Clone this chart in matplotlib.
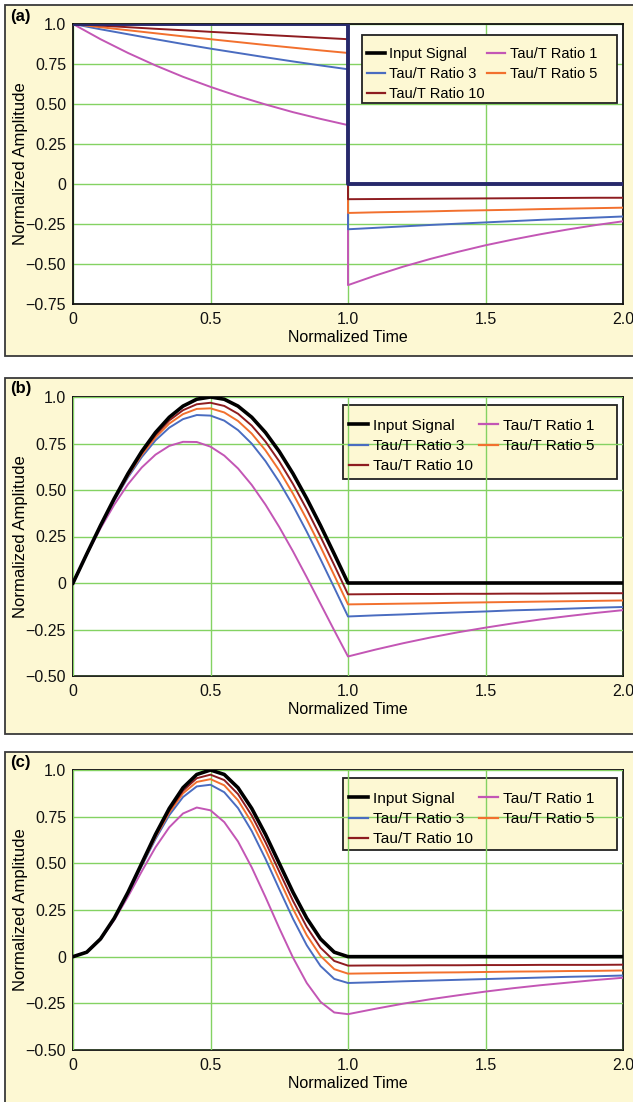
import matplotlib
matplotlib.use("Agg")
import matplotlib.pyplot as plt
from matplotlib.patches import Rectangle
from matplotlib.lines import Line2D

# ---------- data ----------
# panel (a): step input, values just before and just after t = 1
t_a = [0.0, 0.1, 0.2, 0.3, 0.4, 0.5, 0.6, 0.7, 0.8, 0.9, 1.0,
       1.0, 1.1, 1.2, 1.3, 1.4, 1.5, 1.6, 1.7, 1.8, 1.9, 2.0]
sig_a = [1, 1, 1, 1, 1, 1, 1, 1, 1, 1, 1,
         0, 0, 0, 0, 0, 0, 0, 0, 0, 0, 0]
r1_a = [1.0, 0.905, 0.819, 0.741, 0.670, 0.607, 0.549, 0.497, 0.449, 0.407, 0.368,
        -0.632, -0.572, -0.517, -0.468, -0.424, -0.383, -0.347, -0.314, -0.284, -0.257, -0.233]
r3_a = [1.0, 0.967, 0.936, 0.905, 0.875, 0.846, 0.819, 0.792, 0.766, 0.741, 0.717,
        -0.283, -0.274, -0.265, -0.256, -0.248, -0.240, -0.232, -0.224, -0.217, -0.210, -0.203]
r5_a = [1.0, 0.980, 0.961, 0.942, 0.923, 0.905, 0.887, 0.869, 0.852, 0.835, 0.819,
        -0.181, -0.177, -0.174, -0.171, -0.167, -0.164, -0.161, -0.157, -0.154, -0.151, -0.148]
r10_a = [1.0, 0.990, 0.980, 0.970, 0.961, 0.951, 0.942, 0.932, 0.923, 0.914, 0.905,
         -0.095, -0.094, -0.093, -0.092, -0.091, -0.090, -0.089, -0.088, -0.087, -0.086, -0.086]

# panels (b) and (c) share one time axis
t_bc = [0.0, 0.05, 0.1, 0.15, 0.2, 0.25, 0.3, 0.35, 0.4, 0.45, 0.5,
        0.55, 0.6, 0.65, 0.7, 0.75, 0.8, 0.85, 0.9, 0.95, 1.0,
        1.1, 1.2, 1.3, 1.4, 1.5, 1.6, 1.7, 1.8, 1.9, 2.0]

# panel (b): half-sine input
sig_b = [0.0, 0.156, 0.309, 0.454, 0.588, 0.707, 0.809, 0.891, 0.951, 0.988, 1.0,
         0.988, 0.951, 0.891, 0.809, 0.707, 0.588, 0.454, 0.309, 0.156, 0.0,
         0, 0, 0, 0, 0, 0, 0, 0, 0, 0]
r1_b = [0.0, 0.153, 0.294, 0.421, 0.531, 0.621, 0.690, 0.737, 0.759, 0.758, 0.733,
        0.685, 0.616, 0.527, 0.421, 0.301, 0.170, 0.031, -0.112, -0.255, -0.395,
        -0.358, -0.324, -0.293, -0.265, -0.240, -0.217, -0.196, -0.178, -0.161, -0.146]
r3_b = [0.0, 0.155, 0.304, 0.443, 0.568, 0.677, 0.767, 0.835, 0.881, 0.903, 0.900,
        0.873, 0.822, 0.749, 0.655, 0.543, 0.416, 0.276, 0.128, -0.025, -0.180,
        -0.174, -0.169, -0.163, -0.158, -0.153, -0.147, -0.143, -0.138, -0.133, -0.129]
r5_b = [0.0, 0.156, 0.306, 0.447, 0.576, 0.689, 0.783, 0.857, 0.908, 0.936, 0.939,
        0.917, 0.871, 0.803, 0.713, 0.605, 0.480, 0.342, 0.195, 0.041, -0.115,
        -0.113, -0.111, -0.109, -0.106, -0.104, -0.102, -0.100, -0.098, -0.096, -0.094]
r10_b = [0.0, 0.156, 0.308, 0.451, 0.582, 0.698, 0.796, 0.874, 0.929, 0.961, 0.969,
         0.952, 0.910, 0.846, 0.760, 0.654, 0.532, 0.396, 0.249, 0.096, -0.061,
         -0.060, -0.059, -0.059, -0.058, -0.058, -0.057, -0.057, -0.056, -0.055, -0.055]

# panel (c): raised-cosine input
sig_c = [0.0, 0.024, 0.095, 0.206, 0.345, 0.5, 0.655, 0.794, 0.905, 0.976, 1.0,
         0.976, 0.905, 0.794, 0.655, 0.5, 0.345, 0.206, 0.095, 0.024, 0.0,
         0, 0, 0, 0, 0, 0, 0, 0, 0, 0]
r1_c = [0.0, 0.024, 0.092, 0.196, 0.322, 0.457, 0.586, 0.693, 0.767, 0.799, 0.784,
        0.721, 0.617, 0.478, 0.319, 0.153, -0.005, -0.141, -0.242, -0.299, -0.308,
        -0.279, -0.252, -0.228, -0.207, -0.187, -0.169, -0.153, -0.139, -0.125, -0.113]
r3_c = [0.0, 0.024, 0.094, 0.203, 0.338, 0.485, 0.630, 0.758, 0.855, 0.912, 0.921,
        0.881, 0.796, 0.673, 0.524, 0.362, 0.203, 0.061, -0.050, -0.119, -0.141,
        -0.137, -0.132, -0.128, -0.124, -0.120, -0.116, -0.112, -0.108, -0.105, -0.101]
r5_c = [0.0, 0.024, 0.095, 0.204, 0.341, 0.491, 0.640, 0.772, 0.875, 0.936, 0.951,
        0.918, 0.838, 0.719, 0.574, 0.414, 0.256, 0.115, 0.004, -0.067, -0.091,
        -0.089, -0.087, -0.085, -0.084, -0.082, -0.080, -0.079, -0.077, -0.076, -0.074]
r10_c = [0.0, 0.025, 0.095, 0.205, 0.343, 0.496, 0.647, 0.783, 0.889, 0.956, 0.975,
         0.946, 0.871, 0.756, 0.613, 0.456, 0.299, 0.159, 0.048, -0.023, -0.048,
         -0.047, -0.047, -0.046, -0.046, -0.045, -0.045, -0.044, -0.044, -0.044, -0.043]

x_ticks = [0, 0.5, 1.0, 1.5, 2.0]
x_ticklabels = ["0", "0.5", "1.0", "1.5", "2.0"]
yticks_a = [-0.75, -0.5, -0.25, 0, 0.25, 0.5, 0.75, 1.0]
yticklabels_a = ["\u22120.75", "\u22120.50", "\u22120.25", "0", "0.25", "0.50", "0.75", "1.0"]
yticks_bc = [-0.5, -0.25, 0, 0.25, 0.5, 0.75, 1.0]
yticklabels_bc = ["\u22120.50", "\u22120.25", "0", "0.25", "0.50", "0.75", "1.0"]

legend_labels = ["Input Signal", "Tau/T Ratio 3", "Tau/T Ratio 10",
                 "Tau/T Ratio 1", "Tau/T Ratio 5"]

# ---------- style ----------
PANEL_BG = "#fdf8d3"
FRAME = "#3a3a3a"
GRID = "#84d262"
C_IN = "#000000"
C_IN_A = "#27296b"
C_R1 = "#c356b5"
C_R3 = "#4a6cc0"
C_R5 = "#f2702e"
C_R10 = "#8e1c20"

plt.rcParams.update({
    "font.family": ["Liberation Sans", "DejaVu Sans"],
    "font.size": 11,
})

W, H = 633, 1102
fig = plt.figure(figsize=(W / 100, H / 100), dpi=100)
fig.patch.set_facecolor("white")


def fy(py):
    return 1 - py / H


panels = [
    # label, panel top/bottom px, axes top/bottom px, data, ticks, ylim,
    # legend anchor (axes), legend box (x0, x1, y0, y1 axes), legend font, col gap
    ("(a)", 5, 356, 24, 304, t_a, sig_a, [r1_a, r3_a, r5_a, r10_a],
     yticks_a, yticklabels_a, (-0.75, 1.0), (0.534, 0.918),
     (0.5255, 0.989, 0.718, 0.961), 10.5, 0.15),
    ("(b)", 378, 734, 397, 676, t_bc, sig_b, [r1_b, r3_b, r5_b, r10_b],
     yticks_bc, yticklabels_bc, (-0.5, 1.0), (0.502, 0.922),
     (0.491, 0.989, 0.706, 0.971), 11.1, 0.4),
    ("(c)", 752, 1115, 770, 1050, t_bc, sig_c, [r1_c, r3_c, r5_c, r10_c],
     yticks_bc, yticklabels_bc, (-0.5, 1.0), (0.502, 0.922),
     (0.491, 0.989, 0.714, 0.971), 11.1, 0.4),
]

for i, (lab, ptop, pbot, atop, abot, t, sig, resp, yt, ytl, ylim,
        anchor, lbox, lfs, colgap) in enumerate(panels):
    fig.add_artist(Rectangle((5 / W, fy(pbot)), 1.2, fy(ptop) - fy(pbot),
                             transform=fig.transFigure, facecolor=PANEL_BG,
                             edgecolor=FRAME, linewidth=1.3, zorder=0))
    ax = fig.add_axes([73 / W, fy(abot), 550 / W, fy(atop) - fy(abot)])
    ax.set_facecolor("white")
    ax.set_xlim(0, 2.0)
    ax.set_ylim(*ylim)
    ax.set_xticks(x_ticks)
    ax.set_xticklabels(x_ticklabels)
    ax.set_yticks(yt)
    ax.set_yticklabels(ytl)
    ax.tick_params(axis="y", length=0, pad=5, labelsize=11.5, colors="#111111")
    ax.tick_params(axis="x", length=0, pad=6, labelsize=11.5, colors="#111111")
    ax.grid(True, color=GRID, linewidth=1.0)
    ax.set_axisbelow(i == 0)
    for sp in ax.spines.values():
        sp.set_color("#111111")
        sp.set_linewidth(1.3)

    for y, c in zip(resp, [C_R1, C_R3, C_R5, C_R10]):
        ax.plot(t, y, color=c, linewidth=1.4, zorder=3)
    ax.plot(t, sig, color=C_IN_A if i == 0 else C_IN,
            linewidth=2.8 if i == 0 else 2.6, zorder=4,
            solid_joinstyle="round")

    # legend: frame drawn as its own box, entries placed inside it
    bx0, bx1, by0, by1 = lbox
    ax.add_patch(Rectangle((bx0, by0), bx1 - bx0, by1 - by0,
                           transform=ax.transAxes, facecolor=PANEL_BG,
                           edgecolor="#222222", linewidth=1.3,
                           zorder=5 if i == 0 else 1))
    handles = [Line2D([], [], color=c, linewidth=2.6 if c == C_IN else 1.6)
               for c in [C_IN, C_R3, C_R10, C_R1, C_R5]]
    leg = ax.legend(handles, legend_labels, ncol=2, loc="upper left",
                    bbox_to_anchor=anchor, borderaxespad=0, fontsize=lfs,
                    handlelength=1.25, handletextpad=0.3, columnspacing=colgap,
                    labelspacing=0.4, borderpad=0, frameon=False)
    leg.set_zorder(6)

    ax.text(-0.096, 0.5, "Normalized Amplitude", rotation=90, ha="center",
            va="center", fontsize=12, transform=ax.transAxes)
    ax.text(0.5, -34 / (abot - atop), "Normalized Time", ha="center",
            va="center", fontsize=11.5, transform=ax.transAxes)
    fig.text(10 / W, fy(ptop + 11), lab, fontsize=12, fontweight="bold",
             ha="left", va="center")

fig.savefig("out.png", dpi=100, facecolor="white")
